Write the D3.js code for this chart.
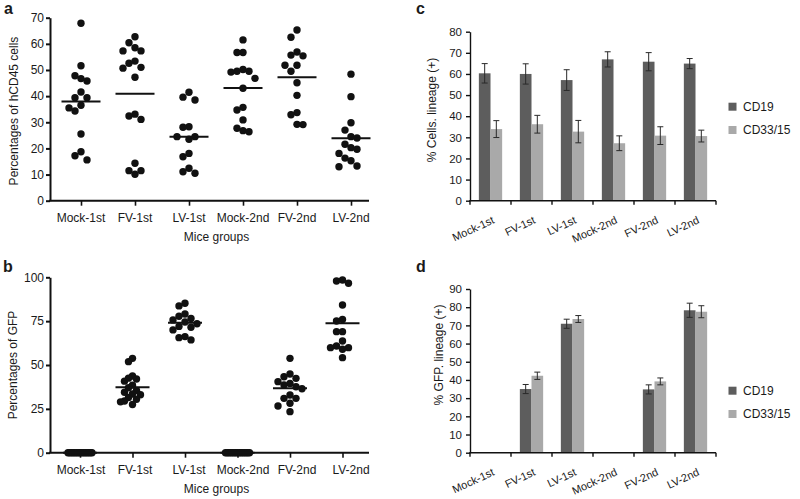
<!DOCTYPE html>
<html><head><meta charset="utf-8">
<script src="https://cdn.jsdelivr.net/npm/d3@7"></script>
<style>
body{margin:0;background:#fff}
svg{display:block}
text{font-family:"Liberation Sans",Arial,Helvetica,sans-serif;fill:#1a1a1a}
</style>
</head><body>
<svg id="fig" width="800" height="499"></svg>
<script>
// ---------- DATA ----------
const groups = ["Mock-1st","FV-1st","LV-1st","Mock-2nd","FV-2nd","LV-2nd"];

// Panel a: % hCD45 cells per mouse
const hcd45Mock1st = [67.9,51.6,47.8,46.7,45.8,41.6,39.4,39.4,36.5,35.5,34.3,25.5,18.7,17.2,15.6];
const hcd45FV1st   = [62.7,60.4,58.5,57.3,57.3,53.4,52.6,51.0,50.7,47.2,33.1,32.4,31.1,14.3,11.5,11.5,10.1];
const hcd45LV1st   = [41.5,39.6,38.5,28.3,28.1,24.5,24.5,23.5,18.1,16.8,12.4,11.1,10.5];
const hcd45Mock2nd = [61.5,56.7,56.7,50.2,49.5,49.5,49.2,46.8,43.0,35.7,34.7,30.9,27.7,26.8,26.4];
const hcd45FV2nd   = [65.3,62.5,56.9,55.7,55.4,51.8,51.8,49.5,45.1,40.3,33.7,32.9,29.2,29.1];
const hcd45LV2nd   = [48.4,39.8,29.8,27.0,24.5,24.0,21.6,20.3,19.7,18.1,16.3,15.3,13.3,13.0];
const hcd45Means   = [37.9,40.9,24.5,43.1,47.2,23.9];
const hcd45Ticks   = [0,10,20,30,40,50,60,70];

// Panel b: % GFP per mouse
const gfpMock1st = [0,0,0,0,0,0,0,0,0,0,0,0,0,0,0];
const gfpFV1st   = [53.8,51.9,43.7,42.5,42.0,40.8,38.5,37.0,35.5,34.5,33.5,33.0,31.5,30.5,29.5,29.0,27.5];
const gfpLV1st   = [85.2,83.7,79.1,77.8,76.5,75.7,74.5,73.5,72.0,71.5,70.0,66.2,65.6,64.3];
const gfpMock2nd = [0,0,0,0,0,0,0,0,0,0,0,0,0,0,0];
const gfpFV2nd   = [53.8,44.9,43.3,42.4,40.5,39.5,38.6,37.6,36.5,32.9,31.0,31.0,28.2,26.6,23.4];
const gfpLV2nd   = [98.5,97.9,96.6,84.2,76.0,75.1,69.0,69.0,63.7,60.8,59.9,59.9,59.0,54.2];
const gfpMeans   = [0,37.3,74.1,0,36.7,73.8];
const gfpTicks   = [0,25,50,75,100];

// Panel c: % cells lineage (+)
const series = ["CD19","CD33/15"];
const cellsCD19     = [60.3,60.0,57.1,66.9,65.8,64.9];
const cellsCD19Err  = [4.6,4.8,4.9,3.6,4.3,2.4];
const cellsCD33     = [33.9,36.2,32.7,27.2,30.8,30.6];
const cellsCD33Err  = [4.0,4.2,5.3,3.5,4.2,2.8];
const cellsTicks    = [0,10,20,30,40,50,60,70,80];

// Panel d: % GFP lineage (+)
const gfpCD19     = [0,35.0,70.9,0,34.8,78.3];
const gfpCD19Err  = [0,2.5,2.5,0,2.5,3.9];
const gfpCD33     = [0,42.3,73.5,0,39.2,77.5];
const gfpCD33Err  = [0,2.0,1.9,0,1.9,3.3];
const gfpLinTicks = [0,10,20,30,40,50,60,70,80,90];

// ---------- STYLE ----------
const darkGray = "#5d5d5d", lightGray = "#a9a9a9";
const svg = d3.select("#fig");

// simple lane beeswarm
function swarm(values, y, step, collide, maxHalf) {
  const order = values.map((v,i)=>i).sort((a,b)=>values[b]-values[a]);
  const placed = [], off = new Array(values.length);
  order.forEach(i => {
    const py = y(values[i]);
    for (let k = 0; ; k++) {
      const lane = k === 0 ? 0 : (k % 2 ? -Math.ceil(k/2) : Math.ceil(k/2));
      if (!placed.some(p => p.lane === lane && Math.abs(p.y - py) < collide)) {
        placed.push({lane, y: py}); off[i] = lane * step; break;
      }
    }
  });
  const ext = d3.max(off, Math.abs) || 0;
  const s = ext > maxHalf ? maxHalf / ext : 1;
  return off.map(o => o * s);
}

function scatterPanel(o) {
  const g = svg.append("g");
  const y = d3.scaleLinear().domain([0, o.max]).range([o.y0, o.y1]);
  const x = d3.scalePoint().domain(groups).range(o.xr);
  const xl = d3.scalePoint().domain(groups).range(o.labelR);
  const ya = g.append("g").attr("transform", `translate(${o.axisX},0)`)
    .call(d3.axisLeft(y).tickValues(o.ticks).tickSize(4).tickPadding(2).tickSizeOuter(0));
  ya.selectAll("text").style("font-size", "12px").attr("fill", "#1a1a1a");
  ya.selectAll("line,path").attr("stroke", "#111").attr("stroke-width", 2);
  g.append("line").attr("x1", o.axisX - 1).attr("x2", o.axisEnd)
    .attr("y1", o.y0).attr("y2", o.y0).attr("stroke", "#111").attr("stroke-width", 2);
  const xa = g.append("g").attr("transform", `translate(0,${o.y0})`)
    .call(d3.axisBottom(x).tickSize(5).tickFormat(""));
  xa.select(".domain").remove();
  xa.selectAll("line").attr("stroke", "#111").attr("stroke-width", 1.6);
  g.selectAll(".xl").data(groups).join("text")
    .attr("x", d => xl(d)).attr("y", o.y0 + 21)
    .attr("text-anchor", "middle").style("font-size", "12px").text(d => d);
  o.data.forEach((vals, gi) => {
    const offs = swarm(vals, y, o.step, o.collide, o.maxHalf);
    g.append("g").selectAll("circle").data(vals).join("circle")
      .attr("cx", (d, i) => x(groups[gi]) + offs[i])
      .attr("cy", d => y(d)).attr("r", o.r).attr("fill", "#111");
  });
  g.selectAll(".mean").data(o.means).join("line")
    .attr("x1", (d, i) => x(groups[i]) - o.meanHalf)
    .attr("x2", (d, i) => x(groups[i]) + o.meanHalf)
    .attr("y1", d => y(d)).attr("y2", d => y(d))
    .attr("stroke", "#111").attr("stroke-width", 2);
  g.append("text").attr("transform", `translate(${o.yTitleX},${o.yTitleY}) rotate(-90)`)
    .attr("text-anchor", "middle").style("font-size", "12px").text(o.yTitle);
  g.append("text").attr("x", 216.5).attr("y", o.xTitleY)
    .attr("text-anchor", "middle").style("font-size", "12px").text("Mice groups");
  g.append("text").attr("x", o.letterX).attr("y", o.letterY)
    .style("font-size", "16px").style("font-weight", "bold").attr("fill", "#000").text(o.letter);
}

scatterPanel({
  data: [hcd45Mock1st,hcd45FV1st,hcd45LV1st,hcd45Mock2nd,hcd45FV2nd,hcd45LV2nd],
  means: hcd45Means, ticks: hcd45Ticks, max: 70,
  y0: 200.7, y1: 17.7, xr: [81, 351], labelR: [81, 351], axisX: 50, axisEnd: 369,
  step: 10, collide: 10.5, maxHalf: 12, r: 3.7, meanHalf: 19.5,
  yTitle: "Percentages of hCD45 cells", yTitleX: 17.5, yTitleY: 111,
  xTitleY: 240.5, letter: "a", letterX: 4, letterY: 14
});
scatterPanel({
  data: [gfpMock1st,gfpFV1st,gfpLV1st,gfpMock2nd,gfpFV2nd,gfpLV2nd],
  means: gfpMeans, ticks: gfpTicks, max: 100,
  y0: 452.7, y1: 277.3, xr: [80, 342.5], labelR: [81, 351], axisX: 50, axisEnd: 369,
  step: 10, collide: 8, maxHalf: 12, r: 3.7, meanHalf: 17,
  yTitle: "Percentages of GFP", yTitleX: 17, yTitleY: 365,
  xTitleY: 492.5, letter: "b", letterX: 3, letterY: 272
});

function barPanel(o) {
  const g = svg.append("g");
  const y = d3.scaleLinear().domain([0, o.max]).range([o.y0, o.y1]);
  const x0 = d3.scaleBand().domain(groups).range([470, 716]);
  const x1 = d3.scaleBand().domain(series).range([0, x0.bandwidth()]).paddingOuter(0.76);
  const vals = [o.cd19, o.cd33], errs = [o.cd19Err, o.cd33Err], cols = [darkGray, lightGray];
  series.forEach((s, si) => {
    const rows = groups.map((gname, i) => ({gname, v: vals[si][i], e: errs[si][i]}));
    g.append("g").selectAll("rect").data(rows).join("rect")
      .attr("x", d => x0(d.gname) + x1(s)).attr("width", x1.bandwidth())
      .attr("y", d => y(d.v)).attr("height", d => y(0) - y(d.v)).attr("fill", cols[si]);
    const eb = g.append("g").selectAll("g").data(rows.filter(d => d.v > 0)).join("g")
      .attr("stroke", "#2a2a2a").attr("stroke-width", 1);
    const cx = d => x0(d.gname) + x1(s) + x1.bandwidth() / 2;
    eb.append("line").attr("x1", cx).attr("x2", cx)
      .attr("y1", d => y(d.v - d.e)).attr("y2", d => y(d.v + d.e));
    [-1, 1].forEach(sg => eb.append("line")
      .attr("x1", d => cx(d) - 3).attr("x2", d => cx(d) + 3)
      .attr("y1", d => y(d.v + sg * d.e)).attr("y2", d => y(d.v + sg * d.e)));
  });
  const ya = g.append("g").attr("transform", "translate(470,0)")
    .call(d3.axisLeft(y).tickValues(o.ticks).tickSize(4).tickPadding(4).tickSizeOuter(0));
  ya.selectAll("text").style("font-size", "11.5px").attr("fill", "#1a1a1a");
  ya.selectAll("line,path").attr("stroke", "#111").attr("stroke-width", 1.4);
  g.append("line").attr("x1", 469.3).attr("x2", 716).attr("y1", o.y0).attr("y2", o.y0)
    .attr("stroke", "#111").attr("stroke-width", 1.4);
  const edges = groups.map(d => x0(d)).concat([x0.range()[1]]);
  g.selectAll(".tk").data(edges).join("line")
    .attr("x1", d => d).attr("x2", d => d).attr("y1", o.y0).attr("y2", o.y0 + 4)
    .attr("stroke", "#111").attr("stroke-width", 1.4);
  g.selectAll(".xl").data(groups).join("text")
    .attr("transform", d => `translate(${x0(d) + x0.bandwidth() / 2 + 4.5},${o.y0 + 22}) rotate(-25)`)
    .attr("text-anchor", "end").style("font-size", "11px").text(d => d);
  g.append("text").attr("transform", `translate(${o.yTitleX},${o.yTitleY}) rotate(-90)`)
    .attr("text-anchor", "middle").style("font-size", "12px").text(o.yTitle);
  series.forEach((s, si) => {
    g.append("rect").attr("x", 728.5).attr("y", o.legY + si * 23.3).attr("width", 8).attr("height", 8).attr("fill", cols[si]);
    g.append("text").attr("x", 743).attr("y", o.legY + si * 23.3 + 8.3).style("font-size", "12px").text(s);
  });
  g.append("text").attr("x", o.letterX).attr("y", o.letterY)
    .style("font-size", "16px").style("font-weight", "bold").attr("fill", "#000").text(o.letter);
}

barPanel({
  cd19: cellsCD19, cd19Err: cellsCD19Err, cd33: cellsCD33, cd33Err: cellsCD33Err,
  ticks: cellsTicks, max: 80, y0: 200.7, y1: 31.7,
  yTitle: "% Cells. lineage (+)", yTitleX: 436, yTitleY: 110,
  legY: 102.7, letter: "c", letterX: 416, letterY: 14
});
barPanel({
  cd19: gfpCD19, cd19Err: gfpCD19Err, cd33: gfpCD33, cd33Err: gfpCD33Err,
  ticks: gfpLinTicks, max: 90, y0: 452.7, y1: 289,
  yTitle: "% GFP. lineage (+)", yTitleX: 443, yTitleY: 355,
  legY: 386.7, letter: "d", letterX: 416, letterY: 272
});
</script>
</body></html>
